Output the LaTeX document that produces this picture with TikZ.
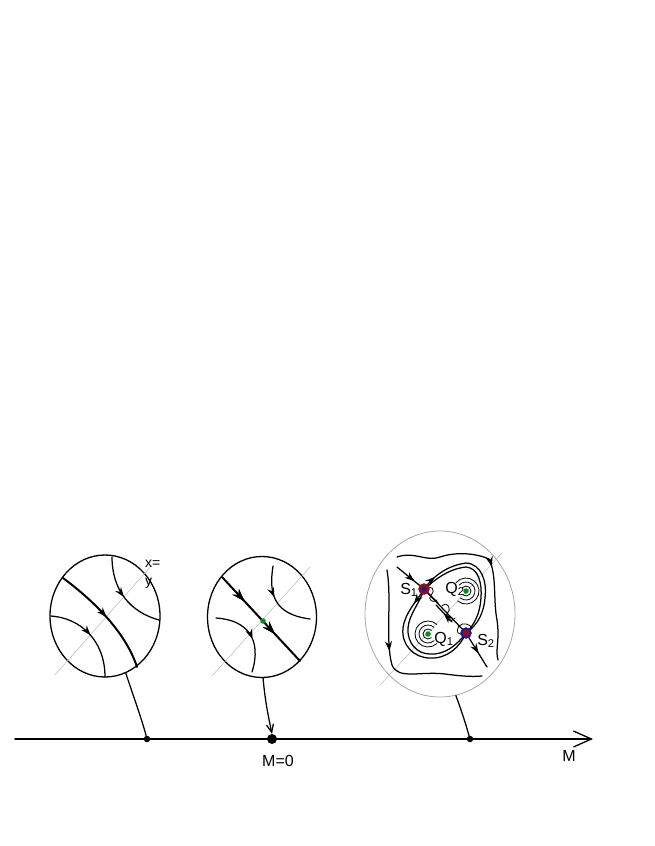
\documentclass[tikz,border=0pt]{standalone}
\usepackage{fontspec}
\setmainfont{Liberation Sans}
\usetikzlibrary{arrows.meta,decorations.markings,shapes.geometric}
\definecolor{sred}{RGB}{150,10,25}
\definecolor{sblue}{RGB}{25,25,150}
\definecolor{qgreen}{RGB}{0,140,30}
\tikzset{
  arr/.style={postaction={decorate},decoration={markings,mark=at position #1 with {\arrow{Stealth[length=10pt,width=7pt]}}}},
  bigarr/.style={postaction={decorate},decoration={markings,mark=at position #1 with {\arrow{Stealth[length=13pt,width=8.5pt]}}}},
  traj/.style={line width=1.25pt},
  thicktraj/.style={line width=2pt},
  diag/.style={line width=0.5pt, gray!55},
  spiral/.style={line width=0.8pt},
  disc/.style={draw, ellipse, inner sep=0pt, line width=1.3pt},
  axisdot/.style={circle, fill=black, inner sep=0pt, minimum size=#1},
  lbl/.style={font=\fontsize{16}{19}\selectfont, inner sep=0pt},
  small/.style={font=\fontsize{14}{16}\selectfont, inner sep=0pt},
  greendot/.style={circle, fill=qgreen, inner sep=0pt, minimum size=5.5pt},
}
\begin{document}
\begin{tikzpicture}[x=1pt,y=-1pt,line cap=round,line join=round]
\useasboundingbox (0,0) rectangle (654,846);

% ---- axis ----
\coordinate (a0) at (15,739);
\coordinate (a1) at (593,739);
\draw[line width=1.6pt,-{Straight Barb[length=18pt,width=16pt,line width=1.3pt]}] (a0) -- (a1);
\node[axisdot=6.5pt] (d1) at (147,739) {};
\node[axisdot=10pt] (d2) at (272,739) {};
\node[axisdot=6.5pt] (d3) at (470,739) {};
\node[lbl] (m0) at (278,761) {M=0};
\node[lbl] (mlab) at (569,756) {M};

% ---- discs ----
\node[disc, minimum width=110pt, minimum height=122pt] (c1) at (105,616) {};
\node[disc, minimum width=109pt, minimum height=121pt] (c2) at (262,617) {};
\node[disc, draw=gray!70, line width=0.8pt, minimum width=150pt, minimum height=166pt] (c3) at (440,614) {};

% ---- stems ----
\draw[traj] (c1.-70) .. controls (134,698) and (142,720) .. (d1);
\draw[traj,-{Straight Barb[length=8pt,width=7pt]}] (c2.-89) .. controls (265,700) and (268,715) .. (d2.north);
\draw[traj] (c3.-79) .. controls (462,712) and (466,725) .. (d3);

% ---- disc 1 ----
\draw[diag] (55,675) -- (152,565);
\node[small, anchor=base west] (xeq) at (145,567) {x=};
\node[small, anchor=base west] (yeq) at (145,585) {y};
\draw[thicktraj, arr=0.5] (63,578) .. controls (90,598) and (125,630) .. (137,667);
\draw[traj, arr=0.5] (112,557) .. controls (112,590) and (130,612) .. (159,620);
\draw[traj, arr=0.5] (51,616) .. controls (80,618) and (105,640) .. (105,677);

% ---- disc 2 ----
\draw[diag] (212,676) -- (310,567);
\draw[thicktraj, bigarr=0.29, bigarr=0.68] (222,577) -- (300,661);
\draw[traj, arr=0.42] (273,566) .. controls (269,592) and (272,614) .. (310,619);
\draw[traj, arr=0.57] (216,618) .. controls (248,620) and (262,640) .. (252,672);
\node[greendot] (e0) at (263,621) {};

% ---- disc 3 ----
\draw[diag] (380,685) -- (502,553);
% outer trajectories
\draw[traj, arr=0.52] (397,557) .. controls (415,551) and (425,562) .. (440,557)
   .. controls (458,551) and (478,554) .. (489,559)
   .. controls (497,575) and (493,600) .. (497,620)
   .. controls (500,640) and (495,650) .. (498,660);
\draw[traj, arr=0.43] (387,570) .. controls (392,600) and (385,640) .. (392,665)
   .. controls (398,680) and (420,671) .. (445,674)
   .. controls (460,676) and (472,677) .. (482,676);
% spirals around Q2
\coordinate (q2) at (466,591);
\foreach \r in {5,9,13} \draw[spiral] (q2) ++(220:\r) arc[start angle=220,end angle=490,radius=\r];
% spirals around Q1
\coordinate (q1) at (428,634);
\foreach \r in {5,9,13} \draw[spiral] (q1) ++(48:\r) arc[start angle=48,end angle=313,radius=\r];
% saddle separatrices
\coordinate (s1) at (424,589);
\coordinate (s2) at (466,633);
\draw[traj, arr=0.65] (397,567) -- (s1);
\draw[traj] (s1) -- (s2);
\draw[traj, arr=0.6] (s2) -- (487,667);
\draw[traj] (s1) -- (438,603);
\draw[traj, arr=0.5] (452,622) -- (436,605);
% loops around Q2
\draw[traj, arr=0.12] (s1) .. controls (432,578) and (445,566) .. (466,563)
   .. controls (482,564) and (487,582) .. (485,598)
   .. controls (484,612) and (478,625) .. (s2);
\draw[traj] (s1) .. controls (434,581) and (447,569) .. (466,567)
   .. controls (479,568) and (482,584) .. (481,598)
   .. controls (480,613) and (475,624) .. (s2);
% loops around Q1
\draw[traj, arr=0.13] (s1) .. controls (418,600) and (405,612) .. (403,628)
   .. controls (401,645) and (414,658) .. (430,658)
   .. controls (447,659) and (460,647) .. (s2);
\draw[traj] (s1) .. controls (420,603) and (409,614) .. (408,628)
   .. controls (407,643) and (417,654) .. (430,654)
   .. controls (445,655) and (457,645) .. (s2);
% tangles near the saddles
\draw[line width=0.8pt] (s1) .. controls (432,584) and (436,590) .. (431,595)
   .. controls (427,599) and (433,604) .. (437,600);
\draw[line width=0.8pt] (442,606) .. controls (448,600) and (452,610) .. (447,614)
   .. controls (443,618) and (450,624) .. (455,618);
\draw[line width=0.8pt] (s2) .. controls (458,637) and (455,631) .. (459,626)
   .. controls (463,622) and (470,624) .. (472,628);
% saddle points and foci
\node[circle, fill=sred, draw=sred, inner sep=0pt, minimum size=11pt] (S1) at (s1) {};
\node[circle, fill=sblue, inner sep=0pt, minimum size=5pt] (S1i) at (s1) {};
\node[circle, fill=sblue, draw=sblue, inner sep=0pt, minimum size=11pt] (S2) at (s2) {};
\node[circle, fill=sred, inner sep=0pt, minimum size=7pt] (S2i) at (s2) {};
\node[greendot] (Q2) at (q2) {};
\node[greendot] (Q1) at (q1) {};
% labels
\node[lbl, anchor=base] (ls1) at (409,594) {S\textsubscript{1}};
\node[lbl, anchor=base] (lq2) at (455,593) {Q\textsubscript{2}};
\node[lbl, anchor=base] (lq1) at (444,643) {Q\textsubscript{1}};
\node[lbl, anchor=base] (ls2) at (486,645) {S\textsubscript{2}};
\end{tikzpicture}
\end{document}
